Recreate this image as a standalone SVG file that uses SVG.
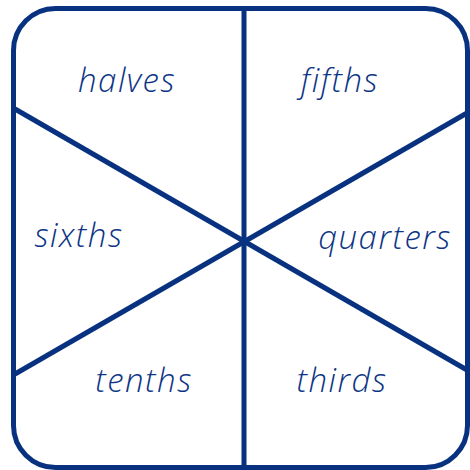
<svg xmlns="http://www.w3.org/2000/svg" width="470" height="470" viewBox="0 0 470 470">
<style>
.ln{stroke:#08327f;stroke-width:5;fill:none;stroke-linecap:butt}
.t{font-family:"Open Sans","DejaVu Sans",sans-serif;font-style:italic;font-weight:300;font-size:33px;letter-spacing:1.5px;fill:#0d3585}
</style>
<rect width="470" height="470" fill="#ffffff"/>
<g id="connectors">
<line class="ln" x1="244" y1="10" x2="244" y2="466"/>
<line class="ln" x1="15" y1="109" x2="467" y2="370"/>
<line class="ln" x1="15" y1="374" x2="467" y2="113"/>
</g>
<g id="frame"><rect class="ln" x="13.5" y="8.5" width="454" height="459" rx="42"/></g>
<g id="halves"><text class="t" x="127" y="92" text-anchor="middle">halves</text></g>
<g id="fifths"><text class="t" x="340" y="92" text-anchor="middle">fifths</text></g>
<g id="sixths"><text class="t" x="79" y="247" text-anchor="middle">sixths</text></g>
<g id="quarters"><text class="t" x="385" y="249" text-anchor="middle">quarters</text></g>
<g id="tenths"><text class="t" x="144" y="392" text-anchor="middle">tenths</text></g>
<g id="thirds"><text class="t" x="342" y="392" text-anchor="middle">thirds</text></g>
</svg>
